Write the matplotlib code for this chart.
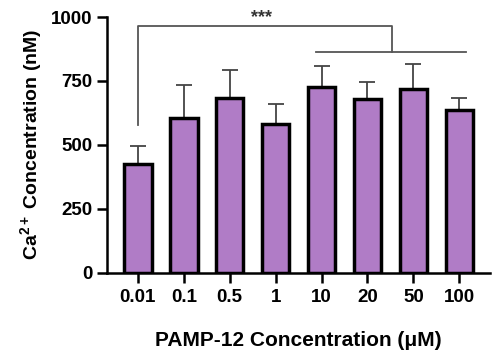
import matplotlib
matplotlib.use("Agg")
import matplotlib.pyplot as plt
import numpy as np

plt.rcParams['font.family'] = ['Liberation Sans', 'DejaVu Sans']
plt.rcParams['font.weight'] = 'bold'
plt.rcParams['mathtext.fontset'] = 'custom'
plt.rcParams['mathtext.rm'] = 'Liberation Sans:bold'
plt.rcParams['mathtext.bf'] = 'Liberation Sans:bold'
plt.rcParams['mathtext.it'] = 'Liberation Sans:bold'

categories = ["0.01", "0.1", "0.5", "1", "10", "20", "50", "100"]
means = [424, 604, 684, 580, 725, 680, 718, 635]
err_top = [494, 733, 792, 659, 808, 745, 816, 682]
errors = [t - m for t, m in zip(err_top, means)]
yticks = [0, 250, 500, 750, 1000]

fig = plt.figure(figsize=(4.97, 3.55), dpi=100)
ax = fig.add_axes([0.215, 0.232, 0.771, 0.72])
x = np.arange(len(categories))
ax.bar(x, means, width=0.6, color="#B07CC6", edgecolor="black", linewidth=2.5, zorder=2)
ax.errorbar(x, means, yerr=[np.zeros(len(errors)), errors], fmt="none",
            ecolor="#444444", elinewidth=1.3, capsize=6, capthick=1.3, zorder=1)

# significance bracket
lc = "#555555"
ax.plot([0, 0, 5.53, 5.53], [576, 965, 965, 863], color=lc, lw=1.3, clip_on=False)
ax.plot([3.88, 7.15], [863, 863], color=lc, lw=1.3, clip_on=False)
ax.text(2.7, 966, "***", ha="center", va="bottom", fontsize=13, color="#333333")

ax.set_xlim(-0.675, 7.67)
ax.set_ylim(0, 1000)
ax.set_yticks(yticks)
ax.set_xticks(x)
ax.set_xticklabels(categories)
for s in ["top", "right"]:
    ax.spines[s].set_visible(False)
for s in ["left", "bottom"]:
    ax.spines[s].set_linewidth(1.8)
ax.tick_params(axis="both", width=1.8, length=7, labelsize=13.5, direction="out")
ax.tick_params(axis="x", pad=5)
ax.set_xlabel("PAMP-12 Concentration (μM)", fontsize=15, fontweight="bold", labelpad=18)
ax.set_ylabel("Ca$^{2+}$ Concentration (nM)", fontsize=14, fontweight="bold", labelpad=5)

fig.savefig("out.png", dpi=100)
